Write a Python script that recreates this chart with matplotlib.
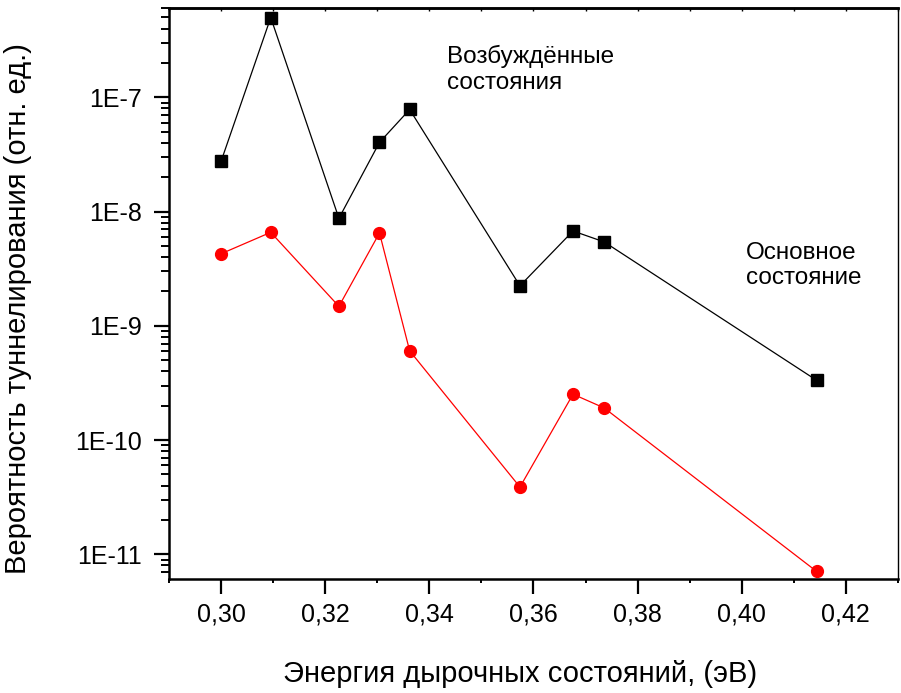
import math

import matplotlib

matplotlib.use("Agg")
import matplotlib.pyplot as plt
from matplotlib.ticker import LogLocator, MultipleLocator, FuncFormatter

plt.rcParams["font.family"] = ["Liberation Sans", "DejaVu Sans"]

# энергии дырочных состояний, эВ
energy = [0.300, 0.3095, 0.3226, 0.3304, 0.3362, 0.3574, 0.3676, 0.3736, 0.4144]
# возбуждённые состояния (чёрные квадраты)
excited = [2.79e-8, 4.99e-7, 8.73e-9, 4.03e-8, 7.82e-8, 2.24e-9, 6.76e-9, 5.42e-9, 3.34e-10]
# основное состояние (красные круги)
ground = [4.28e-9, 6.58e-9, 1.48e-9, 6.50e-9, 6.04e-10, 3.88e-11, 2.52e-10, 1.91e-10, 7.1e-12]

fig = plt.figure(figsize=(9.01, 6.93), dpi=100)
ax = fig.add_axes([0.1879, 0.1641, 0.8084, 0.8244])

ax.plot(energy, excited, color="black", lw=0.9, marker="s", ms=8,
        mec="black", mfc="black")
ax.plot(energy, ground, color="#ff0000", lw=0.9, marker="o", ms=8.5,
        mec="#ff0000", mfc="#ff0000")

ax.set_yscale("log")
ax.set_xlim(0.29, 0.43)
ax.set_ylim(6.05e-12, 6.05e-7)

# -- оси --
ax.xaxis.set_major_locator(MultipleLocator(0.02))
ax.xaxis.set_minor_locator(MultipleLocator(0.01))
ax.xaxis.set_major_formatter(FuncFormatter(lambda v, p: f"{v:.2f}".replace(".", ",")))
ax.yaxis.set_major_locator(LogLocator(base=10, numticks=20))
ax.yaxis.set_minor_locator(LogLocator(base=10, subs=range(2, 10), numticks=20))
ax.yaxis.set_major_formatter(FuncFormatter(lambda v, p: f"1E{int(round(math.log10(v)))}"))

ax.tick_params(which="major", direction="out", length=11, width=1.6, labelsize=18)
ax.tick_params(which="minor", direction="out", length=6, width=1.4)
ax.tick_params(axis="x", which="minor", length=3)
ax.tick_params(axis="x", which="major", pad=6)
ax.tick_params(axis="y", which="major", pad=9)

# короткие штрихи внутрь на верхней оси, без подписей
top = ax.secondary_xaxis("top")
top.xaxis.set_major_locator(MultipleLocator(0.01))
top.tick_params(direction="in", length=2, width=1.0, labeltop=False)
top.spines["top"].set_linewidth(1.8)

for side in ("left", "bottom", "top"):
    ax.spines[side].set_linewidth(1.8)
ax.spines["right"].set_linewidth(1.0)

ax.set_xlabel("Энергия дырочных состояний, (эВ)", fontsize=21, va="baseline")
ax.xaxis.set_label_coords(0.4815, -0.1798)
ax.set_ylabel("Вероятность туннелирования (отн. ед.)", fontsize=21)
ax.yaxis.set_label_coords(-0.189, 0.473)

# подписи кривых (позиции в пикселях рисунка -> доли осей)
def to_axes(px, py):
    return (px - 169.3) / 728.4, (579.3 - py) / 571.3

ax.text(*to_axes(446.7, 45), "Возбуждённые\nсостояния", transform=ax.transAxes,
        fontsize=17.5, va="top", ha="left", linespacing=1.2)
ax.text(*to_axes(745.7, 242), "Основное\nсостояние", transform=ax.transAxes,
        fontsize=17.5, va="top", ha="left", linespacing=1.2)

fig.savefig("out.png", dpi=100)
